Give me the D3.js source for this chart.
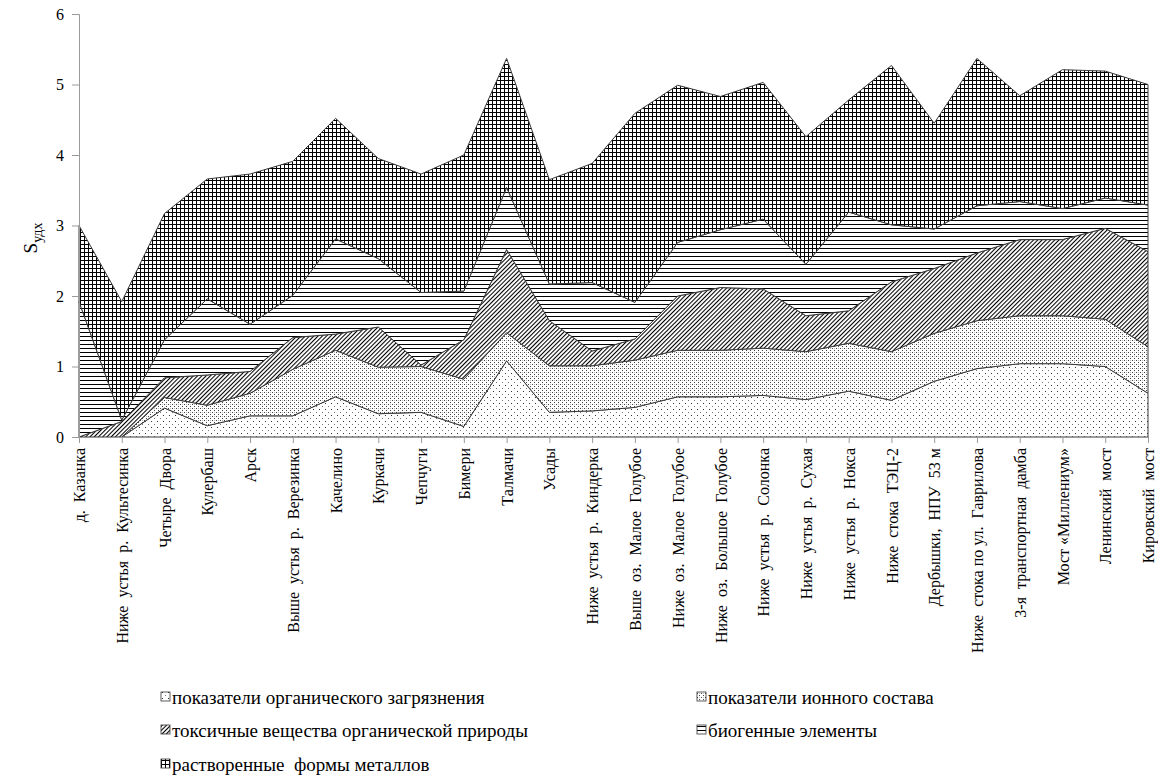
<!DOCTYPE html>
<html>
<head>
<meta charset="utf-8">
<script src="https://cdn.jsdelivr.net/npm/d3@7"></script>
<style>
  html, body { margin: 0; padding: 0; background: #fff; }
  svg { display: block; }
  svg text { font-family: "Liberation Serif", "Times New Roman", serif; fill: #000; }
</style>
</head>
<body>
<svg id="chart" width="1158" height="776"></svg>
<script>
// Monitoring sites along the river (downstream order)
const sites = [
  "д.  Казанка",
  "Ниже  устья  р.  Культесинка",
  "Четыре  Двора",
  "Кулербаш",
  "Арск",
  "Выше  устья  р.  Верезинка",
  "Качелино",
  "Куркачи",
  "Чепчуги",
  "Бимери",
  "Талмачи",
  "Усады",
  "Ниже  устья  р.  Киндерка",
  "Выше  оз.  Малое  Голубое",
  "Ниже  оз.  Малое  Голубое",
  "Ниже  оз.  Большое  Голубое",
  "Ниже  устья  р.  Солонка",
  "Ниже  устья  р.  Сухая",
  "Ниже  устья  р.  Нокса",
  "Ниже  стока  ТЭЦ-2",
  "Дербышки,  НПУ  53 м",
  "Ниже  стока по ул.  Гаврилова",
  "3-я  транспортная  дамба",
  "Мост «Миллениум»",
  "Ленинский  мост",
  "Кировский  мост"
];

// Contribution of each indicator group to S_удх
const organic = [0, 0, 0.41, 0.16, 0.30, 0.30, 0.57, 0.33, 0.35, 0.15, 1.08, 0.35, 0.37, 0.42, 0.57, 0.57, 0.59, 0.53, 0.65, 0.52, 0.79, 0.97, 1.04, 1.04, 1.00, 0.62];
const ionic   = [0, 0, 0.15, 0.29, 0.32, 0.66, 0.66, 0.66, 0.65, 0.67, 0.40, 0.66, 0.64, 0.67, 0.66, 0.66, 0.67, 0.68, 0.68, 0.69, 0.68, 0.68, 0.68, 0.68, 0.67, 0.66];
const toxic   = [0, 0.22, 0.28, 0.43, 0.31, 0.45, 0.23, 0.57, 0.02, 0.56, 1.18, 0.64, 0.21, 0.30, 0.77, 0.89, 0.84, 0.51, 0.46, 0.99, 0.92, 0.96, 1.08, 1.08, 1.29, 1.35];
const biogen  = [1.92, 0.02, 0.54, 1.08, 0.67, 0.60, 1.35, 0.97, 1.03, 0.69, 0.88, 0.52, 0.97, 0.52, 0.76, 0.82, 0.99, 0.73, 1.40, 0.81, 0.56, 0.67, 0.54, 0.44, 0.43, 0.66];
const metals  = [1.08, 1.68, 1.79, 1.70, 2.13, 1.90, 1.71, 1.42, 1.68, 1.93, 1.83, 1.48, 1.69, 2.68, 2.23, 1.89, 1.94, 1.81, 1.59, 2.26, 1.50, 2.09, 1.50, 1.97, 1.80, 1.71];

const seriesNames = [
  "показатели органического загрязнения",
  "показатели ионного состава",
  "токсичные вещества органической природы",
  "биогенные элементы",
  "растворенные  формы металлов"
];
const yTicks = [0, 1, 2, 3, 4, 5, 6];

const keys = ["organic", "ionic", "toxic", "biogen", "metals"];
const rows = sites.map((s, i) => ({
  site: s, organic: organic[i], ionic: ionic[i], toxic: toxic[i], biogen: biogen[i], metals: metals[i]
}));

const FONT = '"Liberation Serif", "Times New Roman", serif';
const svg = d3.select("#chart");
const defs = svg.append("defs");

// Fill patterns (monochrome hatching)
function pat(id, size, build, transform) {
  const p = defs.append("pattern").attr("id", id)
    .attr("patternUnits", "userSpaceOnUse")
    .attr("width", size).attr("height", size);
  if (transform) p.attr("patternTransform", transform);
  p.append("rect").attr("width", size).attr("height", size).attr("fill", "#fff");
  build(p);
}
pat("p-organic", 6, p => {
  p.append("rect").attr("x", 1).attr("y", 1).attr("width", 1).attr("height", 1).attr("fill", "#333");
  p.append("rect").attr("x", 4).attr("y", 4).attr("width", 1).attr("height", 1).attr("fill", "#777");
});
pat("p-ionic", 4, p => {
  p.append("rect").attr("x", 0).attr("y", 0).attr("width", 1).attr("height", 1).attr("fill", "#444");
  p.append("rect").attr("x", 2).attr("y", 2).attr("width", 1).attr("height", 1).attr("fill", "#444");
  p.append("rect").attr("x", 2).attr("y", 0).attr("width", 1).attr("height", 1).attr("fill", "#bbb");
});
pat("p-toxic", 3, p => {
  p.append("line").attr("x1", 0.5).attr("y1", 0).attr("x2", 0.5).attr("y2", 3)
    .attr("stroke", "#000").attr("stroke-width", 1.1);
}, "rotate(45)");
pat("p-biogen", 4, p => {
  p.append("line").attr("x1", 0).attr("y1", 0.5).attr("x2", 4).attr("y2", 0.5)
    .attr("stroke", "#000").attr("stroke-width", 1);
});
pat("p-metals", 4, p => {
  p.append("line").attr("x1", 0).attr("y1", 0.5).attr("x2", 4).attr("y2", 0.5)
    .attr("stroke", "#000").attr("stroke-width", 1);
  p.append("line").attr("x1", 0.5).attr("y1", 0).attr("x2", 0.5).attr("y2", 4)
    .attr("stroke", "#000").attr("stroke-width", 1);
});

const x = d3.scalePoint().domain(sites).range([79, 1148]);
const y = d3.scaleLinear().domain([0, 6]).range([437, 14]);

const stacked = d3.stack().keys(keys)(rows);
const area = d3.area()
  .x(d => x(d.data.site))
  .y0(d => y(d[0]))
  .y1(d => y(d[1]));

svg.append("g").selectAll("path")
  .data(stacked)
  .join("path")
  .attr("d", area)
  .attr("fill", d => `url(#p-${d.key})`)
  .attr("stroke", "#3a3a3a")
  .attr("stroke-width", 1)
  .attr("stroke-linejoin", "miter");

// Y axis
const yAxis = svg.append("g").attr("transform", "translate(79,0)")
  .call(d3.axisLeft(y).tickValues(yTicks).tickSize(7).tickPadding(8).tickFormat(d3.format("d")));
yAxis.attr("font-family", FONT);
yAxis.select(".domain").attr("stroke", "#9a9a9a");
yAxis.selectAll(".tick line").attr("stroke", "#9a9a9a");
yAxis.selectAll(".tick text").attr("font-size", 16).style("font-family", FONT);

// X axis with vertical site names
const xAxis = svg.append("g").attr("transform", "translate(0,437)")
  .call(d3.axisBottom(x).tickSize(6).tickSizeOuter(0));
xAxis.attr("font-family", FONT);
xAxis.select(".domain").attr("stroke", "#9a9a9a");
xAxis.selectAll(".tick line").attr("stroke", "#9a9a9a");
xAxis.selectAll(".tick text")
  .attr("font-size", 16)
  .style("font-family", FONT)
  .attr("xml:space", "preserve")
  .style("white-space", "pre")
  .attr("text-anchor", "end")
  .attr("transform", "rotate(-90)")
  .attr("x", -11)
  .attr("y", 0)
  .attr("dy", "0.35em");

// Y axis title S_удх
const yTitle = svg.append("text")
  .attr("transform", "translate(37,238) rotate(-90)")
  .attr("text-anchor", "middle")
  .style("font-family", FONT)
  .attr("font-size", 19);
yTitle.append("tspan").text("S");
yTitle.append("tspan").attr("font-size", 14).attr("dy", 5).text("удх");

// Legend
const legendPos = [
  { x: 161, y: 697 }, { x: 697, y: 697 },
  { x: 161, y: 730 }, { x: 697, y: 730 },
  { x: 161, y: 764 }
];
const legend = svg.append("g").selectAll("g")
  .data(keys)
  .join("g")
  .attr("transform", (d, i) => `translate(${legendPos[i].x},${legendPos[i].y})`);
legend.append("rect")
  .attr("x", 0).attr("y", -5).attr("width", 9).attr("height", 9)
  .attr("fill", d => `url(#p-${d})`)
  .attr("stroke", "#333").attr("stroke-width", 0.8);
legend.append("text")
  .attr("x", 11).attr("y", 0).attr("dy", "0.35em")
  .attr("font-size", 19)
  .style("font-family", FONT)
  .attr("xml:space", "preserve")
  .style("white-space", "pre")
  .text((d, i) => seriesNames[i]);
</script>
</body>
</html>
